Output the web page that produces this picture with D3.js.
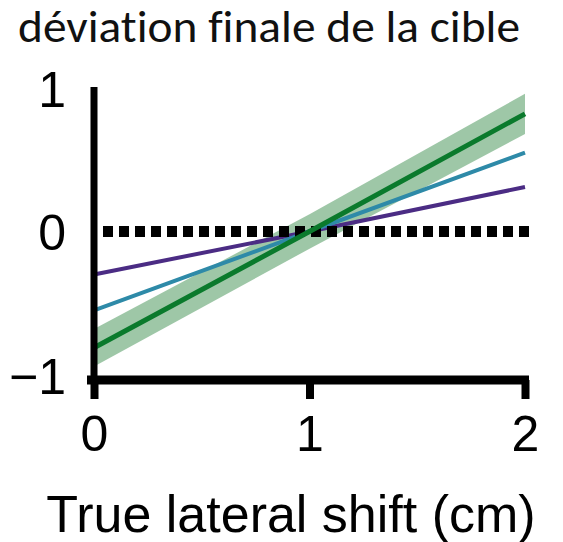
<!DOCTYPE html>
<html>
<head>
<meta charset="utf-8">
<script src="https://cdn.jsdelivr.net/npm/d3@7"></script>
<style>
  html, body { margin: 0; padding: 0; background: #fff; }
  svg { display: block; }
</style>
</head>
<body>
<svg id="chart" width="563" height="542"></svg>
<script>
// Regression fits of final deviation against true lateral shift
const shifts = [0, 1, 2];
const purpleFit = [-0.30, 0.00, 0.31];
const blueFit = [-0.55, 0.00, 0.55];
const greenFit = [-0.81, 0.00, 0.82];
const greenLower = [-0.94, -0.12, 0.68];
const greenUpper = [-0.68, 0.12, 0.96];
const referenceLevel = 0;
const xTicks = [0, 1, 2];
const yTicks = [-1, 0, 1];
const titleText = "déviation finale de la cible";
const xLabel = "True lateral shift (cm)";

const svg = d3.select("#chart");

const x = d3.scaleLinear().domain([0, 2]).range([94, 525]);
const y = d3.scaleLinear().domain([-1, 1]).range([375, 88]);

// Title
svg.append("text")
  .attr("x", 18)
  .attr("y", 42)
  .attr("font-family", "Carlito, Calibri, Lato, sans-serif")
  .attr("font-size", 45)
  .attr("font-weight", 400)
  .attr("textLength", 502)
  .attr("lengthAdjust", "spacingAndGlyphs")
  .style("font-variant-ligatures", "none")
  .attr("fill", "#111")
  .text(titleText);

const line = d3.line().x((d, i) => x(shifts[i])).y(d => y(d));
const band = d3.area()
  .x((d, i) => x(shifts[i]))
  .y0((d, i) => y(greenLower[i]))
  .y1((d, i) => y(greenUpper[i]));

// Confidence band
svg.append("path")
  .datum(greenLower)
  .attr("d", band)
  .attr("fill", "#3d8f4f")
  .attr("fill-opacity", 0.5);

svg.append("path").datum(purpleFit).attr("d", line)
  .attr("fill", "none").attr("stroke", "#4b2c84").attr("stroke-width", 4);
svg.append("path").datum(blueFit).attr("d", line)
  .attr("fill", "none").attr("stroke", "#2e8aa8").attr("stroke-width", 4);

// Dotted reference at zero
svg.append("line")
  .attr("x1", x(0) + 9).attr("x2", x(2) + 5)
  .attr("y1", y(referenceLevel)).attr("y2", y(referenceLevel))
  .attr("stroke", "#000").attr("stroke-width", 11)
  .attr("stroke-dasharray", "10,6");

svg.append("path").datum(greenFit).attr("d", line)
  .attr("fill", "none").attr("stroke", "#0a7a2c").attr("stroke-width", 5);

// Axes
const axisY = 380;
svg.append("line")
  .attr("x1", x(0)).attr("x2", x(0))
  .attr("y1", y(1) - 1).attr("y2", axisY)
  .attr("stroke", "#000").attr("stroke-width", 7);
svg.append("line")
  .attr("x1", x(0) - 7).attr("x2", x(2) + 4)
  .attr("y1", axisY).attr("y2", axisY)
  .attr("stroke", "#000").attr("stroke-width", 9);

const xAxis = d3.axisBottom(x).tickValues(xTicks).tickSize(19).tickPadding(16)
  .tickFormat(d3.format("d"));
const gx = svg.append("g").attr("transform", `translate(0,${axisY})`).call(xAxis);
gx.select(".domain").remove();
gx.selectAll(".tick line").attr("stroke", "#000").attr("stroke-width", 8);
gx.selectAll(".tick text")
  .attr("font-family", "'Liberation Sans', Arial, Helvetica, sans-serif")
  .attr("font-size", 50).attr("fill", "#000");

const yAxis = d3.axisLeft(y).tickValues(yTicks).tickSize(0).tickPadding(28)
  .tickFormat(d => d < 0 ? "\u2212" + Math.abs(d) : String(d));
const gy = svg.append("g").attr("transform", `translate(${x(0)},0)`).call(yAxis);
gy.select(".domain").remove();
gy.selectAll(".tick text")
  .attr("font-family", "'Liberation Sans', Arial, Helvetica, sans-serif")
  .attr("font-size", 50).attr("fill", "#000").attr("dy", "0.36em");

// X axis title
svg.append("text")
  .attr("x", 291)
  .attr("y", 532)
  .attr("text-anchor", "middle")
  .attr("font-family", "'Liberation Sans', Arial, Helvetica, sans-serif")
  .attr("font-size", 52)
  .attr("fill", "#000")
  .text(xLabel);
</script>
</body>
</html>
